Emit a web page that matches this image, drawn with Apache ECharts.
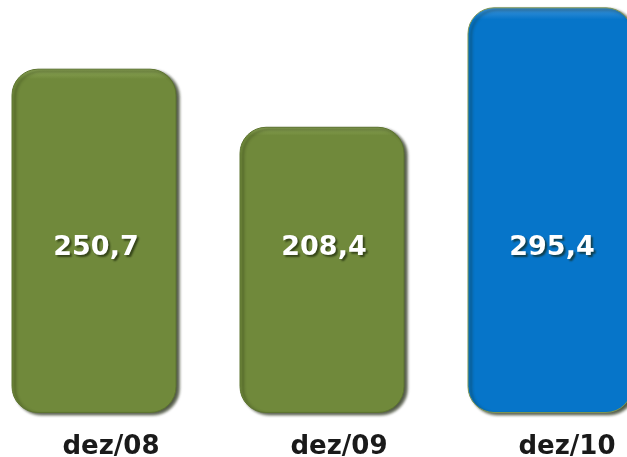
<!DOCTYPE html>
<html>
<head>
<meta charset="utf-8">
<script src="https://cdn.jsdelivr.net/npm/echarts@6/dist/echarts.min.js"></script>
<style>
  html, body { margin: 0; padding: 0; background: #fff; overflow: hidden; }
  /* wider than the window so the category bands line up with the reference */
  #chart { width: 684px; height: 457px; margin-left: -20px; }
</style>
</head>
<body>
<div id="chart"></div>
<script>
const categories = ['dez/08', 'dez/09', 'dez/10'];
const values = [250.7, 208.4, 295.4];
const barColors = ['#70893b', '#70893b', '#0675c9'];
const labelLevel = 120; // value labels sit at the same height on every bar

const chart = echarts.init(document.getElementById('chart'));

function fmt(v) {
  return v.toFixed(1).replace('.', ',');
}

function shade(hex, top) {
  return new echarts.graphic.LinearGradient(0, 0, 0, 1, [
    { offset: 0, color: top },
    { offset: 0.03, color: hex },
    { offset: 1, color: hex }
  ]);
}

const option = {
  animation: false,
  grid: { left: 0, right: 0, top: 1, bottom: 44, outerBoundsMode: 'none' },
  xAxis: {
    type: 'category',
    data: categories,
    axisLine: { show: false },
    axisTick: { show: false },
    axisLabel: {
      margin: 21,
      padding: [0, 0, 0, 34],
      color: '#1a1a1a',
      fontFamily: 'DejaVu Sans',
      fontWeight: 'bold',
      fontSize: 26
    }
  },
  yAxis: { type: 'value', min: 0, max: 300, show: false },
  series: [
    {
      type: 'bar',
      barWidth: 165,
      data: values.map((v, i) => ({
        value: v,
        itemStyle: {
          color: shade(barColors[i], i === 2 ? '#3f95dc' : '#8fa85a'),
          borderColor: i === 2 ? '#7f9550' : '#5d7430',
          borderWidth: 1,
          borderRadius: 26,
          shadowColor: 'rgba(25,35,10,0.75)',
          shadowBlur: 3,
          shadowOffsetX: 3,
          shadowOffsetY: 2
        }
      }))
    },
    {
      type: 'scatter',
      symbolSize: 0,
      silent: true,
      itemStyle: { opacity: 1 },
      data: values.map((v, i) => [i, labelLevel, v]),
      label: {
        show: true,
        position: 'inside',
        offset: [2, 0],
        formatter: p => fmt(p.value[2]),
        color: '#ffffff',
        fontFamily: 'DejaVu Sans',
        fontWeight: 'bold',
        fontSize: 27,
        textShadowColor: 'rgba(20,30,5,0.65)',
        textShadowBlur: 2,
        textShadowOffsetX: 2,
        textShadowOffsetY: 2
      }
    }
  ]
};

chart.setOption(option);
</script>
</body>
</html>
